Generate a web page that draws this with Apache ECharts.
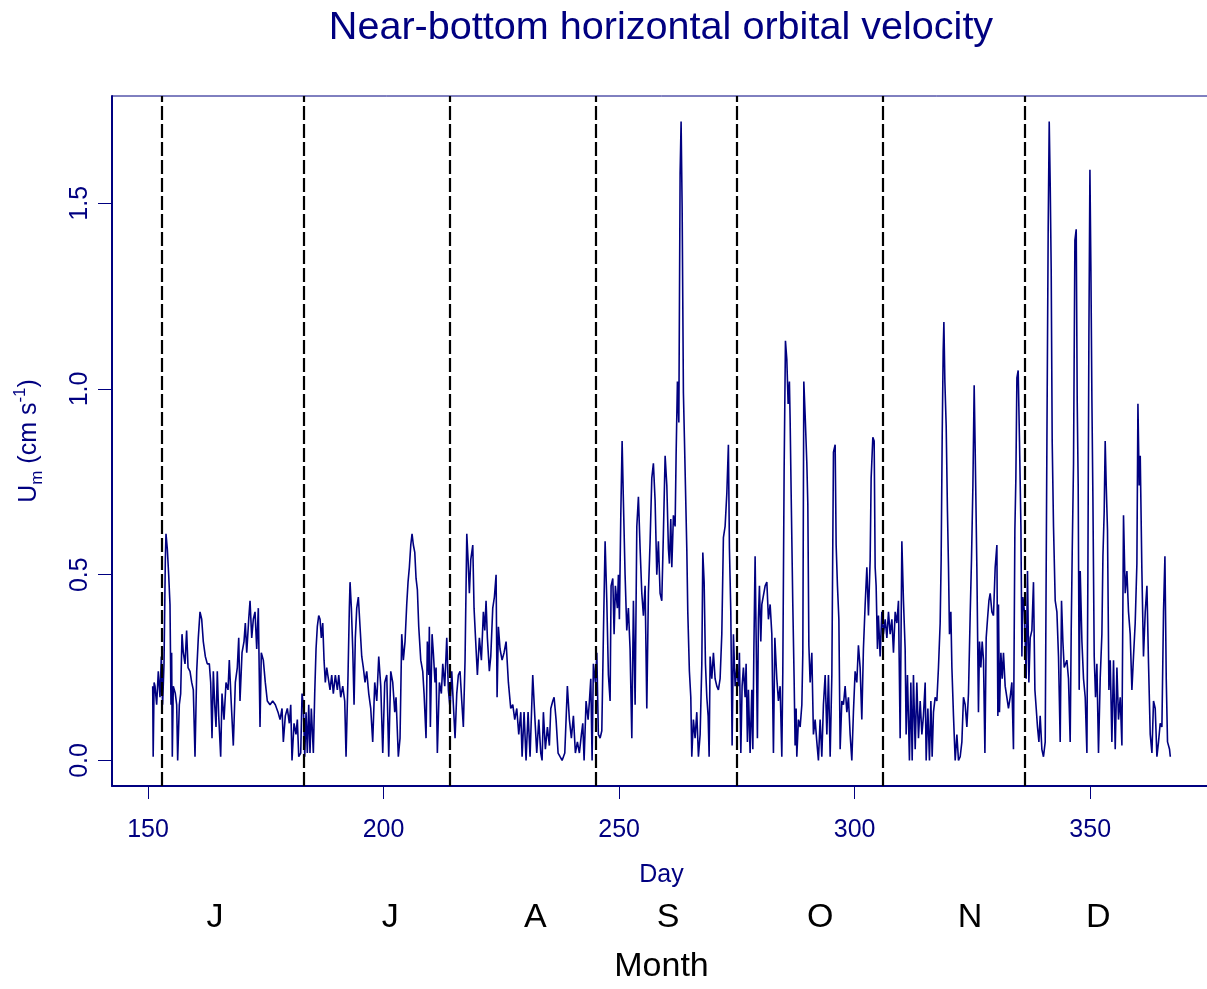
<!DOCTYPE html>
<html>
<head>
<meta charset="utf-8">
<script src="https://cdn.jsdelivr.net/npm/echarts@6/dist/echarts.min.js"></script>
<style>
html,body{margin:0;padding:0;background:#fff;overflow:hidden;}
#chart{width:1216px;height:989px;}
</style>
</head>
<body>
<div id="chart"></div>
<script>
// ---- data ----
const days = [
151.00,151.10,151.30,151.49,151.84,152.19,152.55,152.83,153.10,153.40,153.68,153.82,154.10,154.39,154.67,154.88,155.02,155.16,155.37,155.80,
156.09,156.30,156.65,156.94,157.22,157.50,157.86,158.20,158.50,158.92,159.28,159.62,159.98,160.34,160.68,161.04,161.40,161.74,162.17,162.59,
163.02,163.31,163.59,163.87,164.16,164.44,164.71,165.01,165.43,165.71,166.14,166.56,166.99,167.26,167.69,168.11,168.54,168.96,169.26,169.53,
169.96,170.38,170.66,170.96,171.38,171.66,172.02,172.36,172.72,173.08,173.42,173.78,174.05,174.48,174.90,175.33,175.90,176.47,177.03,177.60,
178.03,178.45,178.73,179.15,179.58,180.00,180.30,180.57,181.00,181.42,181.70,182.00,182.42,182.70,182.97,183.27,183.55,183.82,184.12,184.39,
184.67,185.10,185.39,185.67,185.94,186.24,186.52,186.79,187.09,187.37,187.64,187.94,188.28,188.64,189.00,189.34,189.77,190.19,190.49,190.91,
191.34,191.76,192.04,192.46,192.74,192.89,193.17,193.46,193.74,194.01,194.31,194.65,195.01,195.37,195.71,196.07,196.43,196.86,197.28,197.70,
198.13,198.56,198.98,199.41,199.83,200.25,200.68,201.10,201.53,201.95,202.38,202.65,203.14,203.50,203.86,204.20,204.56,204.92,205.20,205.48,
205.78,206.05,206.33,206.63,206.90,207.18,207.47,207.90,208.32,208.60,209.02,209.30,209.60,209.72,209.94,210.30,210.57,210.93,211.15,211.42,
211.85,212.27,212.57,212.99,213.42,213.76,214.12,214.48,214.82,215.18,215.54,215.88,216.24,216.60,216.94,217.30,217.67,217.94,218.22,218.51,
218.94,219.21,219.64,219.92,220.34,220.77,221.19,221.49,221.76,222.04,222.46,222.76,223.18,223.53,223.89,224.10,224.38,224.73,225.16,225.58,
226.01,226.50,227.00,227.43,227.85,228.28,228.70,229.13,229.41,229.83,230.25,230.68,231.10,231.67,232.10,232.52,232.95,233.37,233.65,233.93,
234.35,234.78,235.20,235.50,235.92,236.20,236.62,237.05,237.47,237.90,238.47,239.02,239.45,239.87,240.30,240.72,241.15,241.57,242.00,242.29,
242.57,242.99,243.42,243.70,243.99,244.27,244.54,244.97,245.27,245.60,245.97,246.33,246.67,247.03,247.39,247.73,248.09,248.30,248.66,248.94,
249.21,249.64,249.85,250.06,250.36,250.64,250.91,251.27,251.63,251.97,252.33,252.70,253.04,253.40,253.76,254.10,254.46,254.82,255.16,255.52,
255.88,256.22,256.58,256.94,257.28,257.64,258.00,258.34,258.70,259.06,259.40,259.77,260.13,260.47,260.68,260.97,261.19,261.53,261.89,262.10,
262.38,262.68,262.95,263.16,263.38,263.65,263.86,264.08,264.37,264.58,264.92,265.22,265.43,265.77,266.13,266.49,266.84,267.20,267.56,267.77,
268.05,268.33,268.62,268.90,269.11,269.32,269.68,270.02,270.38,270.74,271.08,271.44,271.80,272.14,272.50,272.87,273.20,273.42,273.71,273.99,
274.27,274.63,274.99,275.33,275.54,275.84,276.11,276.39,276.75,276.96,277.24,277.45,277.81,278.17,278.39,278.60,278.87,279.23,279.36,279.57,
279.79,280.08,280.30,280.64,281.00,281.36,281.70,282.06,282.42,282.76,283.06,283.48,283.82,284.18,284.54,284.75,285.03,285.31,285.60,285.88,
286.15,286.30,286.52,286.87,287.15,287.36,287.58,287.72,288.07,288.43,288.79,289.00,289.21,289.49,289.85,290.06,290.28,290.55,290.91,291.25,
291.61,291.97,292.31,292.67,293.03,293.37,293.74,294.10,294.44,294.80,295.16,295.50,295.86,296.07,296.35,296.65,296.92,297.28,297.62,297.98,
298.34,298.68,299.04,299.40,299.74,300.10,300.46,300.80,301.16,301.52,301.86,302.23,302.59,302.93,303.29,303.50,303.86,304.14,304.35,304.56,
304.84,305.05,305.41,305.77,306.11,306.48,306.84,307.18,307.54,307.90,308.24,308.60,308.96,309.30,309.66,310.02,310.36,310.72,310.93,311.21,
311.63,311.93,312.21,312.48,312.85,313.20,313.55,313.91,314.27,314.60,314.97,315.18,315.54,315.88,316.18,316.45,316.73,317.09,317.45,317.79,
318.15,318.36,318.58,318.79,318.94,319.15,319.43,319.70,319.92,320.13,320.42,320.64,320.98,321.34,321.70,322.04,322.40,322.76,323.10,323.46,
323.82,324.16,324.52,324.80,325.10,325.37,325.58,325.94,326.28,326.50,326.79,327.07,327.35,327.65,327.92,328.20,328.50,328.77,329.13,329.47,
329.83,330.19,330.40,330.53,330.74,331.04,331.32,331.59,331.95,332.31,332.65,333.01,333.37,333.71,334.01,334.22,334.44,334.71,334.99,335.29,
335.50,335.71,336.05,336.41,336.69,336.98,337.26,337.62,337.96,338.26,338.54,338.81,339.11,339.38,339.74,340.08,340.45,340.81,341.08,341.30,
341.51,341.72,341.93,342.21,342.57,342.93,343.27,343.63,343.91,344.20,344.48,344.76,345.05,345.39,345.75,345.97,346.18,346.46,346.75,347.03,
347.24,347.45,347.66,347.88,348.24,348.58,348.94,349.30,349.51,349.72,349.94,350.15,350.36,350.57,350.85,351.13,351.42,351.76,352.12,352.48,
352.70,352.97,353.18,353.40,353.67,353.97,354.25,354.60,354.95,355.31,355.67,356.01,356.37,356.73,357.07,357.43,357.79,358.13,358.49,358.85,
359.19,359.55,359.91,360.13,360.40,360.62,360.97,361.31,361.68,362.04,362.38,362.74,363.10,363.44,363.80,364.16,364.50,364.86,365.22,365.56,
365.86,366.14,366.41,366.84,367.00
];
const um = [
0.20,0.01,0.21,0.20,0.15,0.24,0.17,0.28,0.15,0.26,0.54,0.61,0.57,0.50,0.42,0.15,0.29,0.01,0.20,0.18,
0.15,0.00,0.15,0.18,0.34,0.29,0.26,0.35,0.25,0.24,0.21,0.19,0.01,0.24,0.33,0.40,0.38,0.32,0.28,0.26,
0.26,0.21,0.06,0.24,0.15,0.09,0.24,0.12,0.01,0.18,0.11,0.21,0.19,0.27,0.15,0.04,0.21,0.25,0.33,0.16,
0.29,0.32,0.37,0.29,0.38,0.43,0.33,0.38,0.40,0.30,0.41,0.09,0.29,0.27,0.21,0.16,0.15,0.16,0.15,0.13,
0.11,0.14,0.05,0.12,0.14,0.10,0.15,0.00,0.10,0.07,0.11,0.01,0.02,0.18,0.15,0.01,0.13,0.02,0.15,0.02,
0.14,0.02,0.18,0.30,0.36,0.39,0.38,0.33,0.37,0.27,0.21,0.25,0.22,0.19,0.23,0.18,0.23,0.19,0.23,0.17,
0.20,0.16,0.01,0.23,0.41,0.48,0.41,0.30,0.15,0.33,0.41,0.44,0.36,0.28,0.25,0.21,0.24,0.18,0.14,0.05,
0.21,0.16,0.28,0.20,0.02,0.21,0.23,0.01,0.24,0.21,0.13,0.17,0.01,0.06,0.34,0.27,0.32,0.42,0.48,0.52,
0.58,0.61,0.58,0.56,0.49,0.46,0.36,0.27,0.24,0.18,0.06,0.32,0.23,0.36,0.09,0.34,0.29,0.21,0.25,0.02,
0.21,0.18,0.26,0.20,0.33,0.19,0.14,0.24,0.15,0.06,0.18,0.23,0.24,0.16,0.09,0.27,0.61,0.54,0.45,0.54,
0.58,0.41,0.30,0.23,0.33,0.27,0.40,0.35,0.43,0.33,0.24,0.28,0.41,0.44,0.50,0.17,0.36,0.30,0.27,0.29,
0.32,0.21,0.14,0.15,0.11,0.14,0.07,0.13,0.01,0.13,0.00,0.13,0.01,0.23,0.12,0.02,0.11,0.02,0.00,0.13,
0.03,0.09,0.04,0.14,0.16,0.17,0.11,0.02,0.01,0.00,0.02,0.20,0.11,0.06,0.12,0.02,0.05,0.02,0.07,0.10,
0.00,0.16,0.11,0.16,0.22,0.00,0.26,0.21,0.29,0.07,0.06,0.08,0.34,0.59,0.43,0.23,0.16,0.47,0.49,0.34,
0.47,0.41,0.50,0.38,0.66,0.86,0.70,0.50,0.35,0.41,0.30,0.06,0.43,0.15,0.63,0.71,0.57,0.45,0.39,0.47,
0.14,0.45,0.59,0.76,0.80,0.70,0.50,0.59,0.45,0.43,0.61,0.82,0.74,0.57,0.53,0.65,0.52,0.66,0.63,0.82,
1.02,0.91,1.58,1.72,1.49,0.99,0.87,0.74,0.57,0.40,0.24,0.17,0.01,0.11,0.06,0.13,0.01,0.07,0.26,0.56,
0.48,0.26,0.17,0.12,0.01,0.28,0.22,0.29,0.22,0.20,0.19,0.22,0.34,0.60,0.63,0.72,0.85,0.57,0.40,0.04,
0.34,0.20,0.25,0.20,0.29,0.02,0.20,0.25,0.17,0.26,0.05,0.19,0.02,0.19,0.03,0.29,0.55,0.55,0.06,0.38,
0.47,0.32,0.42,0.42,0.47,0.48,0.38,0.42,0.34,0.02,0.33,0.22,0.16,0.20,0.01,0.24,0.78,1.13,1.08,0.96,
1.02,0.92,0.72,0.42,0.22,0.04,0.14,0.01,0.11,0.09,0.15,0.29,1.02,0.93,0.80,0.69,0.31,0.21,0.29,0.07,
0.11,0.05,0.00,0.11,0.01,0.15,0.23,0.07,0.23,0.01,0.23,0.83,0.85,0.58,0.47,0.38,0.03,0.16,0.15,0.20,
0.13,0.17,0.07,0.00,0.13,0.24,0.21,0.31,0.25,0.11,0.30,0.42,0.52,0.39,0.54,0.76,0.87,0.86,0.52,0.47,
0.30,0.39,0.28,0.40,0.34,0.38,0.33,0.40,0.34,0.38,0.29,0.40,0.37,0.43,0.06,0.59,0.43,0.30,0.07,0.23,
0.00,0.21,0.00,0.23,0.03,0.21,0.06,0.16,0.07,0.12,0.21,0.00,0.14,0.00,0.16,0.01,0.13,0.17,0.16,0.25,
0.37,0.54,0.87,1.10,1.18,1.02,0.90,0.67,0.52,0.34,0.40,0.25,0.12,0.00,0.07,0.00,0.01,0.05,0.17,0.15,
0.09,0.18,0.39,0.54,0.74,1.01,0.84,0.52,0.13,0.32,0.25,0.32,0.27,0.02,0.33,0.38,0.43,0.45,0.40,0.39,
0.52,0.58,0.12,0.42,0.13,0.29,0.22,0.29,0.20,0.17,0.14,0.17,0.21,0.03,0.62,0.76,1.03,1.05,0.86,0.63,
0.28,0.44,0.40,0.22,0.51,0.21,0.33,0.35,0.48,0.19,0.14,0.09,0.05,0.12,0.03,0.01,0.05,0.86,1.43,1.72,
1.55,1.32,0.86,0.63,0.43,0.40,0.28,0.05,0.43,0.32,0.25,0.25,0.27,0.22,0.05,0.35,0.56,0.80,1.40,1.43,
0.97,0.74,0.19,0.51,0.32,0.22,0.17,0.02,0.51,1.14,1.59,1.32,0.97,0.71,0.28,0.17,0.26,0.02,0.22,0.34,
0.55,0.67,0.86,0.74,0.62,0.19,0.27,0.05,0.27,0.03,0.25,0.11,0.17,0.04,0.66,0.45,0.51,0.40,0.34,0.19,
0.28,0.37,0.53,0.96,0.74,0.82,0.51,0.28,0.40,0.47,0.26,0.07,0.02,0.16,0.14,0.01,0.05,0.10,0.09,0.40,
0.55,0.22,0.05,0.03,0.01
];
const monthStartDays = [153, 183, 214, 245, 275, 306, 336];
const monthLetters = ['J', 'J', 'A', 'S', 'O', 'N', 'D'];
const monthLabelDays = [164.2, 201.4, 232.2, 260.4, 292.7, 324.5, 351.7];
const dayTicks = [150, 200, 250, 300, 350];
const umTicks = [0, 0.5, 1.0, 1.5];

// ---- chart ----
const NAVY = '#000080';
const FONT = '"Liberation Sans", Arial, Helvetica, sans-serif';
const xMin = 142.36, xMax = 375.64;
const yMin = -0.0688, yMax = 1.7888;
const gridBox = { left: 112, top: 96, width: 1099, height: 690 };

const chart = echarts.init(document.getElementById('chart'), null, { renderer: 'canvas' });
const option = {
  animation: false,
  backgroundColor: '#ffffff',
  title: {
    text: 'Near-bottom horizontal orbital velocity',
    left: 661, top: 8, padding: 0, textAlign: 'center',
    textStyle: { fontFamily: FONT, fontSize: 39.6, fontWeight: 'normal', color: NAVY }
  },
  grid: [
    Object.assign({ show: true, borderColor: NAVY, borderWidth: 1, backgroundColor: 'transparent' }, gridBox),
    Object.assign({ show: false }, gridBox)
  ],
  xAxis: [
    {
      type: 'value', gridIndex: 0, min: xMin, max: xMax, position: 'bottom',
      name: 'Day', nameLocation: 'middle', nameGap: 77,
      nameTextStyle: { fontFamily: FONT, fontSize: 25, color: NAVY },
      axisLine: { show: true, onZero: false, lineStyle: { color: NAVY, width: 2 } },
      axisTick: { show: true, customValues: dayTicks, length: 13, lineStyle: { color: NAVY, width: 1 } },
      axisLabel: { customValues: dayTicks, margin: 32, fontFamily: FONT, fontSize: 25, color: NAVY },
      splitLine: { show: false }
    },
    {
      type: 'value', gridIndex: 1, min: xMin, max: xMax, position: 'bottom',
      name: 'Month', nameLocation: 'middle', nameGap: 169,
      nameTextStyle: { fontFamily: FONT, fontSize: 34, color: '#000000' },
      axisLine: { show: false }, axisTick: { show: false }, splitLine: { show: false },
      axisLabel: {
        customValues: monthLabelDays, margin: 120, fontFamily: FONT, fontSize: 34, color: '#000000',
        formatter: function (v) { const i = monthLabelDays.indexOf(v); return i >= 0 ? monthLetters[i] : ''; }
      }
    }
  ],
  yAxis: [
    {
      type: 'value', gridIndex: 0, min: yMin, max: yMax,
      name: '{a|U}{s|m}{a| (cm s}{p|-1}{a|)}', nameLocation: 'middle', nameRotate: 90, nameGap: 66,
      nameTextStyle: {
        fontFamily: FONT, color: NAVY,
        rich: {
          a: { fontFamily: FONT, fontSize: 25, color: NAVY, lineHeight: 34, verticalAlign: 'middle' },
          s: { fontFamily: FONT, fontSize: 17, color: NAVY, lineHeight: 34, verticalAlign: 'bottom' },
          p: { fontFamily: FONT, fontSize: 17, color: NAVY, lineHeight: 34, verticalAlign: 'top' }
        }
      },
      axisLine: { show: true, onZero: false, lineStyle: { color: NAVY, width: 2 } },
      axisTick: { show: true, customValues: umTicks, length: 14, lineStyle: { color: NAVY, width: 1 } },
      axisLabel: {
        customValues: umTicks, rotate: 90, margin: 19, fontFamily: FONT, fontSize: 25, color: NAVY,
        formatter: function (v) { return Number(v).toFixed(1); }
      },
      splitLine: { show: false }
    },
    { type: 'value', gridIndex: 1, min: yMin, max: yMax, show: false }
  ],
  series: [
    {
      type: 'line', xAxisIndex: 0, yAxisIndex: 0,
      data: days.map((d, i) => [d, um[i]]),
      showSymbol: false, symbol: 'none',
      lineStyle: { color: NAVY, width: 1.6 },
      z: 2,
      markLine: {
        silent: true, symbol: ['none', 'none'], animation: false,
        label: { show: false },
        lineStyle: { color: '#000000', type: [14, 4], width: 2.2 },
        data: monthStartDays.map(d => ({ xAxis: d }))
      }
    }
  ]
};
chart.setOption(option);
</script>
</body>
</html>
